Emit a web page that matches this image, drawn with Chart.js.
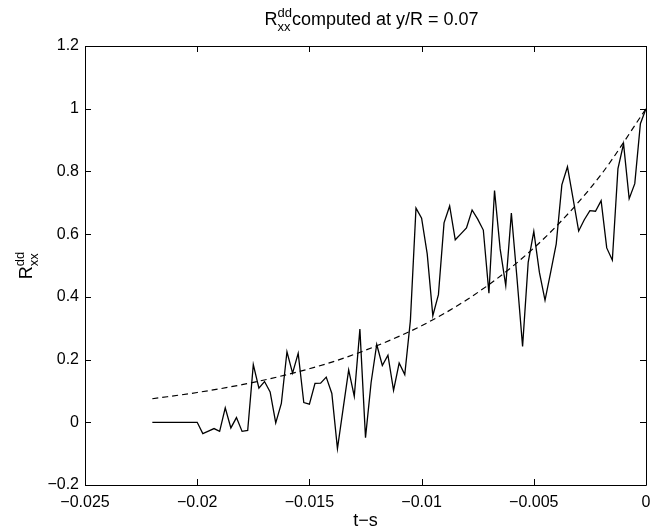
<!DOCTYPE html>
<html>
<head>
<meta charset="utf-8">
<script src="https://cdn.jsdelivr.net/npm/chart.js@4"></script>
<style>
  html, body { margin: 0; padding: 0; background: #fff; }
  #wrap { width: 651px; height: 532px; }
</style>
</head>
<body>
<div id="wrap"><canvas id="corrChart"></canvas></div>
<script>
// lag t-s (measured correlation samples)
const lagTimes = [
  -0.022, -0.02175, -0.0215, -0.02125, -0.021, -0.02075, -0.0205, -0.02025, -0.02,
  -0.01975, -0.0195, -0.01925, -0.019, -0.01875, -0.0185, -0.01825, -0.018,
  -0.01775, -0.0175, -0.01725, -0.017, -0.01675, -0.0165, -0.01625, -0.016,
  -0.01575, -0.0155, -0.01525, -0.015, -0.01475, -0.0145, -0.01425, -0.014,
  -0.01375, -0.0135, -0.01325, -0.013, -0.01275, -0.0125, -0.01225, -0.012,
  -0.01175, -0.0115, -0.01125, -0.011, -0.01075, -0.0105, -0.01025, -0.01,
  -0.00975, -0.0095, -0.00925, -0.009, -0.00875, -0.0085, -0.00825, -0.008,
  -0.00775, -0.0075, -0.00725, -0.007, -0.00675, -0.0065, -0.00625, -0.006,
  -0.00575, -0.0055, -0.00525, -0.005, -0.00475, -0.0045, -0.00425, -0.004,
  -0.00375, -0.0035, -0.00325, -0.003, -0.00275, -0.0025, -0.00225, -0.002,
  -0.00175, -0.0015, -0.00125, -0.001, -0.00075, -0.0005, -0.00025, 0
];
const measuredR = [
  0, 0, 0, 0, 0, 0, 0, 0, 0,
  -0.036, -0.028, -0.020, -0.029, 0.046, -0.018, 0.015, -0.029,
  -0.026, 0.184, 0.109, 0.130, 0.097, -0.002, 0.060, 0.225,
  0.157, 0.220, 0.063, 0.058, 0.124, 0.125, 0.144, 0.092,
  -0.084, 0.042, 0.167, 0.083, 0.297, -0.049, 0.127, 0.248,
  0.181, 0.214, 0.102, 0.189, 0.152, 0.324, 0.683, 0.651,
  0.537, 0.340, 0.407, 0.636, 0.690, 0.582, 0.601, 0.620,
  0.677, 0.648, 0.613, 0.412, 0.739, 0.553, 0.436, 0.667,
  0.460, 0.242, 0.510, 0.609, 0.478, 0.389, 0.478, 0.569,
  0.757, 0.815, 0.713, 0.610, 0.646, 0.675, 0.673, 0.707,
  0.556, 0.517, 0.809, 0.888, 0.713, 0.761, 0.952, 1.000
];

// dashed model curve
const fitTimes = [-0.022, -0.02, -0.018, -0.016, -0.014, -0.012, -0.01, -0.008, -0.006, -0.004, -0.002, 0];
const fitR = [0.075, 0.095, 0.120, 0.152, 0.192, 0.244, 0.308, 0.390, 0.494, 0.625, 0.790, 1.0];

const FONT = '"Liberation Sans", Arial, Helvetica, sans-serif';

function fmt(v) {
  const r = Math.round(v * 1000) / 1000;
  return String(r).replace('-', '\u2212');
}

// draws "R" with superscript "dd" and subscript "xx", then rest text; returns width
function drawRdd(ctx, x, y, rest, measureOnly) {
  ctx.font = '18px ' + FONT;
  const wR = ctx.measureText('R').width;
  ctx.font = '13px ' + FONT;
  const wS = Math.max(ctx.measureText('dd').width, ctx.measureText('xx').width);
  ctx.font = '18px ' + FONT;
  const wRest = ctx.measureText(rest).width;
  const total = wR + wS + wRest;
  if (measureOnly) return total;
  ctx.textAlign = 'left';
  ctx.textBaseline = 'alphabetic';
  ctx.fillText('R', x, y);
  ctx.font = '13px ' + FONT;
  ctx.fillText('dd', x + wR, y - 8);
  ctx.fillText('xx', x + wR, y + 6);
  ctx.font = '18px ' + FONT;
  ctx.fillText(rest, x + wR + wS, y);
  return total;
}

const boxPlugin = {
  id: 'matlabBox',
  afterDatasetsDraw(chart) {
    const ctx = chart.ctx;
    const a = chart.chartArea;
    const xs = chart.scales.x, ys = chart.scales.y;
    ctx.save();
    ctx.strokeStyle = '#000';
    ctx.lineWidth = 1;
    ctx.beginPath();
    ctx.rect(Math.round(a.left) + 0.5, Math.round(a.top) + 0.5,
             Math.round(a.right - a.left), Math.round(a.bottom - a.top));
    xs.ticks.forEach(t => {
      const px = Math.round(xs.getPixelForValue(t.value)) + 0.5;
      ctx.moveTo(px, a.bottom); ctx.lineTo(px, a.bottom - 6);
      ctx.moveTo(px, a.top); ctx.lineTo(px, a.top + 6);
    });
    ys.ticks.forEach(t => {
      const py = Math.round(ys.getPixelForValue(t.value)) + 0.5;
      ctx.moveTo(a.left, py); ctx.lineTo(a.left + 6, py);
      ctx.moveTo(a.right, py); ctx.lineTo(a.right - 6, py);
    });
    ctx.stroke();

    ctx.fillStyle = '#000';
    // title
    const rest = 'computed at y/R = 0.07';
    const w = drawRdd(ctx, 0, 0, rest, true);
    const cx = (a.left + a.right) / 2;
    drawRdd(ctx, cx + 6 - w / 2, 25, rest, false);

    // x label
    ctx.font = '18px ' + FONT;
    ctx.textAlign = 'center';
    ctx.textBaseline = 'alphabetic';
    ctx.fillText('t\u2212s', cx, 526);

    // y label
    ctx.translate(32, (a.top + a.bottom) / 2);
    ctx.rotate(-Math.PI / 2);
    const wy = drawRdd(ctx, 0, 0, '', true);
    drawRdd(ctx, -wy / 2, 0, '', false);
    ctx.restore();
  }
};

new Chart(document.getElementById('corrChart'), {
  type: 'line',
  data: {
    datasets: [{
      label: 'measured',
      data: lagTimes.map((t, i) => ({ x: t, y: measuredR[i] })),
      borderColor: '#000',
      borderWidth: 1.3,
      pointRadius: 0,
      tension: 0,
      fill: false
    }, {
      label: 'fit',
      data: fitTimes.map((t, i) => ({ x: t, y: fitR[i] })),
      borderColor: '#000',
      borderWidth: 1.2,
      borderDash: [6, 4],
      pointRadius: 0,
      cubicInterpolationMode: 'monotone',
      fill: false
    }]
  },
  options: {
    responsive: true,
    maintainAspectRatio: false,
    animation: false,
    layout: { padding: { left: 0, right: 5, top: 46, bottom: 0 } },
    plugins: {
      legend: { display: false },
      tooltip: { enabled: false }
    },
    scales: {
      x: {
        type: 'linear',
        min: -0.025,
        max: 0,
        grid: { display: false, drawTicks: false },
        border: { display: false },
        ticks: {
          stepSize: 0.005,
          padding: 8,
          color: '#000',
          maxRotation: 0,
          font: { family: FONT, size: 16 },
          callback: v => fmt(v)
        },
        afterFit: s => { s.height = 47; s.paddingLeft = 0; s.paddingRight = 0; }
      },
      y: {
        min: -0.2,
        max: 1.2,
        grid: { display: false, drawTicks: false },
        border: { display: false },
        ticks: {
          stepSize: 0.2,
          padding: 6,
          color: '#000',
          font: { family: FONT, size: 16 },
          callback: v => fmt(v)
        },
        afterFit: s => { s.width = 85; s.paddingTop = 0; s.paddingBottom = 0; }
      }
    }
  },
  plugins: [boxPlugin]
});
</script>
</body>
</html>
